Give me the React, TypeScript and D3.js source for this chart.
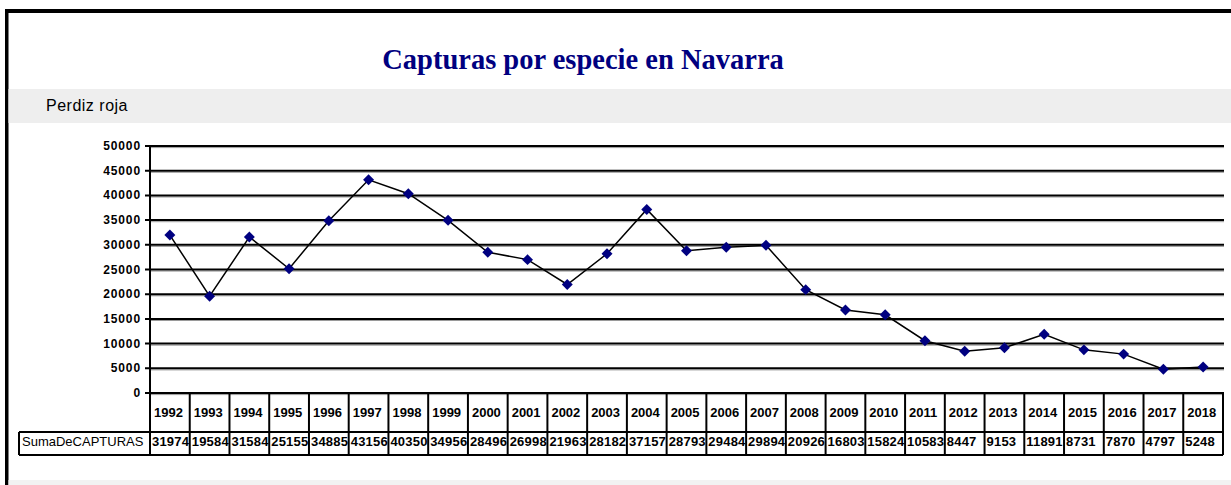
import React from "react";
import * as d3 from "d3";

const years = [
  "1992","1993","1994","1995","1996","1997","1998","1999","2000","2001","2002","2003","2004","2005",
  "2006","2007","2008","2009","2010","2011","2012","2013","2014","2015","2016","2017","2018",
];
const capturas = [
  31974, 19584, 31584, 25155, 34885, 43156, 40350, 34956, 28496, 26998, 21963, 28182, 37157, 28793,
  29484, 29894, 20926, 16803, 15824, 10583, 8447, 9153, 11891, 8731, 7870, 4797, 5248,
];
const yTicks = [0, 5000, 10000, 15000, 20000, 25000, 30000, 35000, 40000, 45000, 50000];
const title = "Capturas por especie en Navarra";
const subtitle = "Perdiz roja";
const seriesLabel = "SumaDeCAPTURAS";

export default function App() {
  const W = 1231, H = 485;
  const left = 150, right = 1223, top = 146, bottom = 393;
  const x = d3.scaleBand<string>().domain(years).range([left, right]);
  const y = d3.scaleLinear().domain([0, 50000]).range([bottom, top]);
  const cx = (yr: string) => (x(yr) as number) + x.bandwidth() / 2;
  const line = d3
    .line<number>()
    .x((_, i) => cx(years[i]))
    .y((d) => y(d));
  const diamond = d3.symbol().type(d3.symbolSquare).size(60)();
  const rowTop = bottom, rowMid = 432, rowBot = 455, labelLeft = 19;
  const sans = "'Liberation Sans', Arial, sans-serif";

  return (
    <svg
      width={W}
      height={H}
      style={{ position: "absolute", left: 0, top: 0, background: "#fff" }}
    >
      {/* frame */}
      <rect x={5} y={9} width={W - 5} height={4} fill="#000" />
      <rect x={5} y={9} width={3.5} height={H - 9} fill="#000" />
      <rect x={8.5} y={89} width={W - 8.5} height={34} fill="#eeeeee" />
      <rect x={8.5} y={480} width={W - 8.5} height={5} fill="#f2f2f2" />

      <text
        x={583}
        y={69}
        textAnchor="middle"
        fill="#000080"
        fontFamily="'Liberation Serif', 'Times New Roman', serif"
        fontWeight="bold"
        fontSize={28.5}
      >
        {title}
      </text>
      <text x={46} y={111} fill="#000" fontFamily={sans} fontSize={16} letterSpacing={0.5}>
        {subtitle}
      </text>

      {/* gridlines */}
      {yTicks.map((t) => (
        <g key={t}>
          <line x1={left} x2={right + 1} y1={y(t) + 1.6} y2={y(t) + 1.6} stroke="#9a9a9a" strokeWidth={1} />
          <line x1={left - 5} x2={right + 1} y1={y(t)} y2={y(t)} stroke="#000" strokeWidth={2} />
          <text
            x={141}
            y={y(t) + 4}
            textAnchor="end"
            fontFamily={sans}
            fontWeight="bold"
            fontSize={12}
            letterSpacing={0.9}
            fill="#000"
          >
            {t}
          </text>
        </g>
      ))}
      <line x1={left} x2={left} y1={top} y2={rowBot} stroke="#000" strokeWidth={2} />

      {/* table */}
      <line x1={left} x2={right} y1={rowMid} y2={rowMid} stroke="#000" strokeWidth={2} />
      <line x1={labelLeft} x2={right} y1={rowBot} y2={rowBot} stroke="#000" strokeWidth={2} />
      <line x1={labelLeft} x2={left} y1={rowMid} y2={rowMid} stroke="#000" strokeWidth={2} />
      <line x1={labelLeft} x2={labelLeft} y1={rowMid} y2={rowBot} stroke="#000" strokeWidth={2} />
      {years.map((yr, i) => {
        const x0 = x(yr) as number;
        return (
          <g key={yr}>
            <line x1={x0 + x.bandwidth()} x2={x0 + x.bandwidth()} y1={rowTop} y2={rowBot} stroke="#000" strokeWidth={2} />
            <text x={x0 + 4} y={417} fontFamily={sans} fontWeight="bold" fontSize={13} fill="#000">
              {yr}
            </text>
            <text x={x0 + 2} y={446} fontFamily={sans} fontWeight="bold" fontSize={13} letterSpacing={0.2} fill="#000">
              {capturas[i]}
            </text>
          </g>
        );
      })}
      <text x={22} y={446} fontFamily={sans} fontSize={13} fill="#000">
        {seriesLabel}
      </text>

      {/* series */}
      <path d={line(capturas) || ""} fill="none" stroke="#000" strokeWidth={1.5} />
      {capturas.map((v, i) => (
        <path
          key={years[i]}
          d={diamond || ""}
          transform={`translate(${cx(years[i])},${y(v)}) rotate(45)`}
          fill="#000080"
        />
      ))}
    </svg>
  );
}
